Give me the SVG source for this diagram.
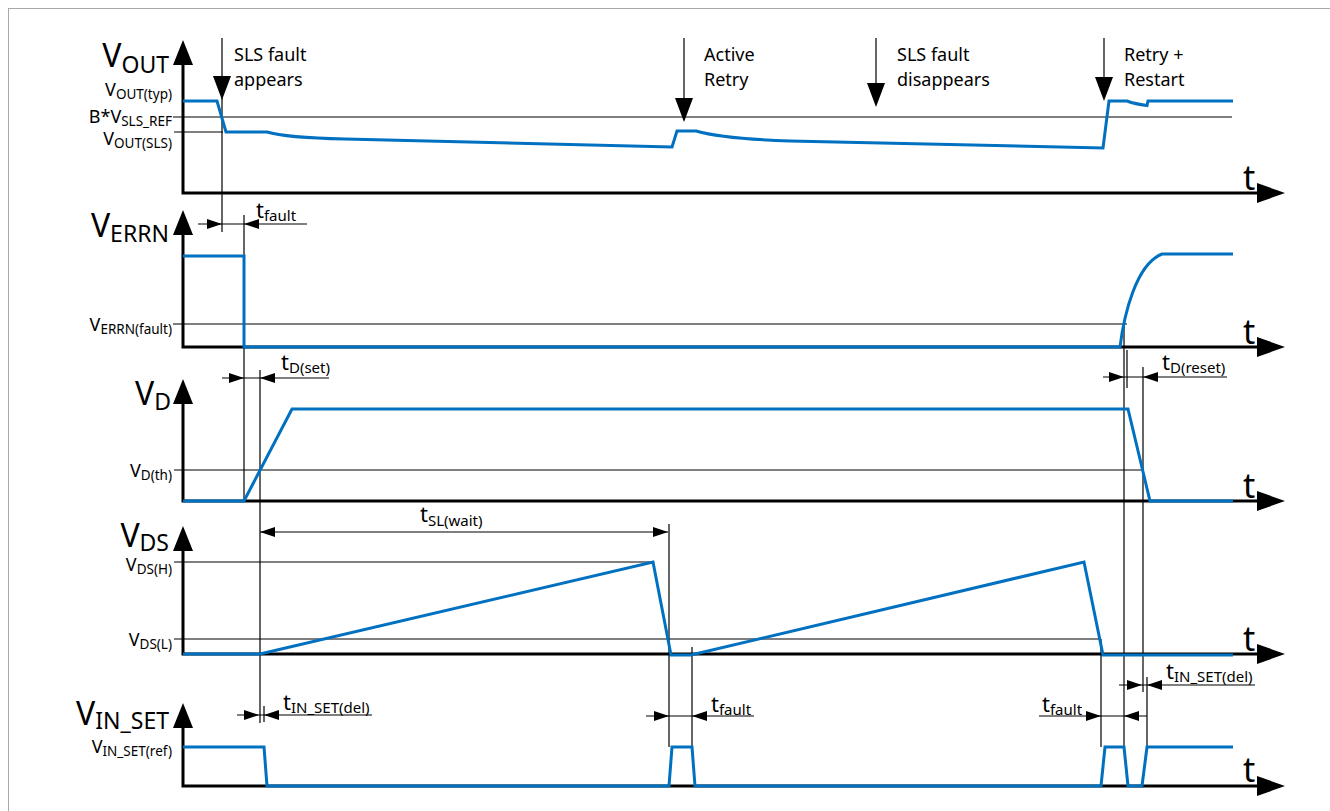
<svg xmlns="http://www.w3.org/2000/svg" xmlns:xlink="http://www.w3.org/1999/xlink" width="1330" height="811" viewBox="0 0 1330 811">
<style>
text{font-family:"Noto Sans","Open Sans","DejaVu Sans",sans-serif;fill:#000}
.ax{stroke:#000;stroke-width:3;fill:none}
.th{stroke:#000;stroke-width:1.2;fill:none}
.wv{stroke:#0070c0;stroke-width:3;fill:none;stroke-linejoin:miter}
.big{font-size:32px}
.bigs{font-size:23px}
.tk{font-size:18px}
.tks{font-size:13.5px}
.an{font-size:18px}
.dt{font-size:22px}
.ds{font-size:15px}
.tt{font-size:34px}
</style>
<defs>
<path id="ar" d="M0,0 L-15,-5 L-15,5 Z" fill="#000"/>
<path id="al" d="M0,0 L15,-5 L15,5 Z" fill="#000"/>
<path id="up" d="M0,0 L-10,25 L10,25 Z" fill="#000"/>
<path id="rt" d="M0,0 L-28,-10 L-28,10 Z" fill="#000"/>
<path id="dn" d="M0,0 L-9,-24 L9,-24 Z" fill="#000"/>
</defs>
<rect x="8.5" y="8.5" width="1330" height="810" fill="#fff" stroke="#a8a8a8" stroke-width="1"/>

<g id="connectors">
<path class="th" d="M173,117 H1232 M174,132 H223 M173,324 H1127 M174,470 H1143 M174,562 H653 M174,639 H1101"/>
<path class="th" d="M222,38 V232 M244,215 V500 M260,370 V723 M264,706 V722 M669,524 V747 M692,647 V747 M1101,639 V747 M1124,324 V747 M1127,350 V388 M1143,367 V692 M1147,677 V747 M684,38 V98 M876,38 V83 M1104,38 V77"/>
<path class="th" d="M198,224 H307 M222,378 H329 M1103,377 H1227 M260,532 H668 M237,715 H372 M646,716 H754 M1039,716 H1147 M1119,685 H1255"/>
<use href="#ar" x="222" y="224"/><use href="#al" x="244" y="224"/>
<use href="#ar" x="244" y="378"/><use href="#al" x="260" y="378"/>
<use href="#ar" x="1124" y="377"/><use href="#al" x="1143" y="377"/>
<use href="#al" x="260" y="532"/><use href="#ar" x="668" y="532"/>
<use href="#ar" x="259" y="715"/><use href="#al" x="264" y="715"/>
<use href="#ar" x="669" y="716"/><use href="#al" x="692" y="716"/>
<use href="#ar" x="1101" y="716"/><use href="#al" x="1124" y="716"/>
<use href="#ar" x="1142" y="685"/><use href="#al" x="1147" y="685"/>
<use href="#dn" x="222" y="100"/>
<use href="#dn" x="684" y="122"/>
<use href="#dn" x="876" y="107"/>
<use href="#dn" x="1104" y="101"/>
</g>

<g id="axis-vout">
<path class="ax" d="M183,64 V193 H1258"/>
<use href="#up" x="183" y="40"/><use href="#rt" x="1285" y="193"/>
<text class="big" x="169" y="67" text-anchor="end">V<tspan class="bigs" dy="6">OUT</tspan></text>
<text class="tt" x="1243" y="190">t</text>
<text class="tk" x="172" y="96" text-anchor="end">V<tspan class="tks" dy="3">OUT(typ)</tspan></text>
<text class="tk" x="172" y="123" text-anchor="end">B*V<tspan class="tks" dy="3">SLS_REF</tspan></text>
<text class="tk" x="172" y="145" text-anchor="end">V<tspan class="tks" dy="3">OUT(SLS)</tspan></text>
<path class="wv" d="M183,101 H217 L226,132 H267 C280,136 300,138 345,139 L672,147 L677,131 H696 C710,135 730,139 790,141 L1103,148 L1109,101 H1127 Q1135,104 1147,105.5 L1148,101 H1233"/>
</g>

<g id="axis-verrn">
<path class="ax" d="M183,234 V347 H1258"/>
<use href="#up" x="183" y="210"/><use href="#rt" x="1285" y="347"/>
<text class="big" x="169" y="237" text-anchor="end">V<tspan class="bigs" dy="5">ERRN</tspan></text>
<text class="tt" x="1243" y="344">t</text>
<text class="tk" x="172" y="331" text-anchor="end">V<tspan class="tks" dy="3">ERRN(fault)</tspan></text>
<path class="wv" d="M183,256 H244 V347 H1120 C1124,315 1136,264 1162,254 H1233"/>
</g>

<g id="axis-vd">
<path class="ax" d="M183,403 V501 H1258"/>
<use href="#up" x="183" y="379"/><use href="#rt" x="1285" y="501"/>
<text class="big" x="171" y="405" text-anchor="end">V<tspan class="bigs" dy="5">D</tspan></text>
<text class="tt" x="1243" y="498">t</text>
<text class="tk" x="172" y="477" text-anchor="end">V<tspan class="tks" dy="3">D(th)</tspan></text>
<path class="wv" d="M183,501 H244 L292,409 H1128 L1150,501 H1233"/>
</g>

<g id="axis-vds">
<path class="ax" d="M183,550 V654 H1258"/>
<use href="#up" x="183" y="526"/><use href="#rt" x="1285" y="654"/>
<text class="big" x="169" y="547" text-anchor="end">V<tspan class="bigs" dy="4">DS</tspan></text>
<text class="tt" x="1243" y="651">t</text>
<text class="tk" x="172" y="571" text-anchor="end">V<tspan class="tks" dy="3">DS(H)</tspan></text>
<text class="tk" x="172" y="646" text-anchor="end">V<tspan class="tks" dy="3">DS(L)</tspan></text>
<path class="wv" d="M183,654 H260 L653,562 L671,655 H691 L1084,562 L1103,655 H1233"/>
</g>

<g id="axis-vinset">
<path class="ax" d="M183,727 V786 H1258"/>
<use href="#up" x="183" y="703"/><use href="#rt" x="1285" y="786"/>
<text class="big" x="169" y="725" text-anchor="end">V<tspan class="bigs" dy="4">IN_SET</tspan></text>
<text class="tt" x="1243" y="782">t</text>
<text class="tk" x="172" y="753" text-anchor="end">V<tspan class="tks" dy="3">IN_SET(ref)</tspan></text>
<path class="wv" d="M183,747 H264 L267,786 H669 L672,747 H692 L695,786 H1101 L1105,747 H1124 L1128,786 H1142 L1147,747 H1233"/>
</g>

<g id="annotations">
<text class="an" x="234" y="61">SLS fault</text>
<text class="an" x="234" y="86">appears</text>
<text class="an" x="704" y="61">Active</text>
<text class="an" x="704" y="86">Retry</text>
<text class="an" x="897" y="61">SLS fault</text>
<text class="an" x="897" y="86">disappears</text>
<text class="an" x="1124" y="61">Retry +</text>
<text class="an" x="1124" y="86">Restart</text>
</g>

<g id="dimension-labels">
<text class="dt" x="256" y="218">t<tspan class="ds" dy="3">fault</tspan></text>
<text class="dt" x="281" y="370">t<tspan class="ds" dy="3">D(set)</tspan></text>
<text class="dt" x="1162" y="370">t<tspan class="ds" dy="3">D(reset)</tspan></text>
<text class="dt" x="420" y="522">t<tspan class="ds" dy="4">SL(wait)</tspan></text>
<text class="dt" x="283" y="710">t<tspan class="ds" dy="3">IN_SET(del)</tspan></text>
<text class="dt" x="711" y="712">t<tspan class="ds" dy="3">fault</tspan></text>
<text class="dt" x="1042" y="712">t<tspan class="ds" dy="3">fault</tspan></text>
<text class="dt" x="1166" y="679">t<tspan class="ds" dy="3">IN_SET(del)</tspan></text>
</g>
</svg>
